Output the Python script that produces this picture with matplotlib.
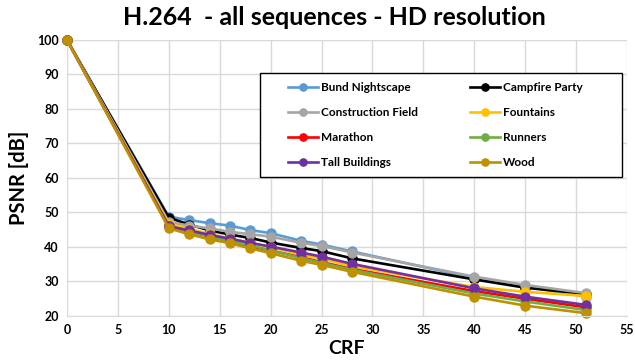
import matplotlib.pyplot as plt
from matplotlib.patches import Rectangle

plt.rcParams["font.family"] = ["Lato", "DejaVu Sans"]

# CRF settings and PSNR per sequence
crf = [0, 10, 12, 14, 16, 18, 20, 23, 25, 28, 40, 45, 51]

bund_nightscape    = [100, 48.8, 47.8, 46.9, 46.2, 44.9, 44.0, 41.8, 40.7, 38.7, 31.0, 28.5, 25.6]
campfire_party     = [100, 48.5, 46.5, 44.8, 43.6, 42.6, 41.3, 39.7, 38.8, 36.7, 30.6, 28.2, 26.4]
construction_field = [100, 47.2, 46.2, 45.4, 44.4, 43.7, 43.0, 41.2, 40.3, 38.4, 31.4, 29.0, 26.6]
fountains          = [100, 46.8, 45.2, 43.8, 42.4, 41.2, 40.0, 37.8, 36.6, 34.4, 28.4, 27.0, 25.8]
marathon           = [100, 46.0, 44.5, 43.0, 41.6, 40.2, 39.0, 37.0, 35.6, 33.6, 27.2, 25.0, 22.5]
runners            = [100, 46.0, 44.5, 43.0, 41.7, 40.5, 39.0, 36.8, 35.4, 33.4, 26.5, 24.2, 21.7]
tall_buildings     = [100, 46.0, 44.8, 43.5, 42.4, 41.2, 40.1, 38.4, 37.2, 35.1, 28.0, 25.6, 23.2]
wood               = [100, 45.4, 43.7, 42.2, 41.1, 39.6, 38.2, 36.0, 34.8, 32.8, 25.6, 23.0, 20.8]

series = [
    ("Bund Nightscape", bund_nightscape, "#5B9BD5"),
    ("Campfire Party", campfire_party, "#000000"),
    ("Construction Field", construction_field, "#A5A5A5"),
    ("Fountains", fountains, "#FFC000"),
    ("Marathon", marathon, "#FF0000"),
    ("Runners", runners, "#70AD47"),
    ("Tall Buildings", tall_buildings, "#7030A0"),
    ("Wood", wood, "#BF9000"),
]

W, H = 635, 361
fig = plt.figure(figsize=(W / 100, H / 100), dpi=100)
ax = fig.add_axes([0.1055, 0.1247, 0.882, 0.7645])

lines = {}
for name, vals, col in series:
    ln, = ax.plot(crf, vals, color=col, lw=1.9, marker="o", ms=6.5,
                  label=name, clip_on=False)
    lines[name] = ln

ax.set_xlim(0, 55)
ax.set_ylim(20, 100)
ax.set_xticks(range(0, 56, 5))
ax.set_yticks(range(20, 101, 10))
ax.grid(True, color="#D9D9D9", lw=1)
ax.set_axisbelow(True)
ax.tick_params(length=0, labelsize=9, pad=6)
for lab in ax.get_xticklabels() + ax.get_yticklabels():
    lab.set_fontweight("bold")
for side in ["top", "right", "left"]:
    ax.spines[side].set_visible(False)
ax.spines["bottom"].set_color("#D9D9D9")

ax.set_xlabel("CRF", fontsize=14, fontweight="bold", labelpad=3)
ax.set_ylabel("PSNR [dB]", fontsize=14.5, fontweight="bold", labelpad=6)
fig.suptitle("H.264  - all sequences - HD resolution", fontsize=18,
             fontweight="bold", x=0.526, y=0.982)

# legend box drawn separately so the padding can be wider than the rows
fig.patches.append(Rectangle((260 / W, 1 - 177 / H), 362 / W, 104 / H,
                             transform=fig.transFigure, facecolor="white",
                             edgecolor="black", lw=1.0, zorder=4))

# legend filled row by row: two columns
order = ["Bund Nightscape", "Construction Field", "Marathon", "Tall Buildings",
         "Campfire Party", "Fountains", "Runners", "Wood"]
leg = fig.legend([lines[n] for n in order], order, ncol=2,
                 loc="upper left", bbox_to_anchor=(288 / W, 1 - 82 / H),
                 frameon=False, fontsize=8.5, handlelength=2.5,
                 handletextpad=0.3, columnspacing=4.4, labelspacing=1.18,
                 borderpad=0, borderaxespad=0, markerscale=0.8)
leg.set_zorder(5)
for t in leg.get_texts():
    t.set_fontweight("bold")

fig.savefig("out.png", dpi=100)
